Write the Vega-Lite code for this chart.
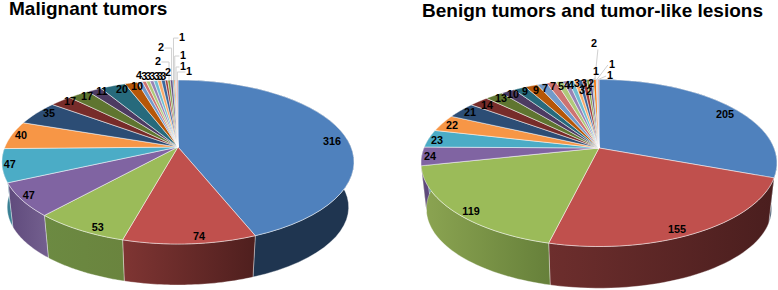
{"$schema":"https://vega.github.io/schema/vega-lite/v6.json","background":"white","padding":0,"autosize":{"type":"pad"},"spacing":0,"config":{"view":{"stroke":null},"title":{"font":"Liberation Sans","fontWeight":"bold","fontSize":19,"color":"#000","anchor":"start","frame":"group"},"text":{"font":"Liberation Sans"}},
"datasets":{"slices":[
{"chart":"malignant","i":1,"value":316},{"chart":"malignant","i":2,"value":74},{"chart":"malignant","i":3,"value":53},{"chart":"malignant","i":4,"value":47},{"chart":"malignant","i":5,"value":47},{"chart":"malignant","i":6,"value":40},{"chart":"malignant","i":7,"value":35},{"chart":"malignant","i":8,"value":17},{"chart":"malignant","i":9,"value":17},{"chart":"malignant","i":10,"value":11},{"chart":"malignant","i":11,"value":20},{"chart":"malignant","i":12,"value":10},{"chart":"malignant","i":13,"value":4},{"chart":"malignant","i":14,"value":3},{"chart":"malignant","i":15,"value":3},{"chart":"malignant","i":16,"value":3},{"chart":"malignant","i":17,"value":3},{"chart":"malignant","i":18,"value":3},{"chart":"malignant","i":19,"value":3},{"chart":"malignant","i":20,"value":2},{"chart":"malignant","i":21,"value":2},{"chart":"malignant","i":22,"value":2},{"chart":"malignant","i":23,"value":1},{"chart":"malignant","i":24,"value":1},{"chart":"malignant","i":25,"value":1},{"chart":"malignant","i":26,"value":1},
{"chart":"benign","i":1,"value":205},{"chart":"benign","i":2,"value":155},{"chart":"benign","i":3,"value":119},{"chart":"benign","i":4,"value":24},{"chart":"benign","i":5,"value":23},{"chart":"benign","i":6,"value":22},{"chart":"benign","i":7,"value":21},{"chart":"benign","i":8,"value":14},{"chart":"benign","i":9,"value":13},{"chart":"benign","i":10,"value":10},{"chart":"benign","i":11,"value":9},{"chart":"benign","i":12,"value":9},{"chart":"benign","i":13,"value":7},{"chart":"benign","i":14,"value":7},{"chart":"benign","i":15,"value":5},{"chart":"benign","i":16,"value":4},{"chart":"benign","i":17,"value":4},{"chart":"benign","i":18,"value":3},{"chart":"benign","i":19,"value":3},{"chart":"benign","i":20,"value":3},{"chart":"benign","i":21,"value":2},{"chart":"benign","i":22,"value":2},{"chart":"benign","i":23,"value":1},{"chart":"benign","i":24,"value":2},{"chart":"benign","i":25,"value":1},{"chart":"benign","i":26,"value":1}
]},
"data":{"name":"slices"},
"hconcat":[
{"width":389,"height":269,"title":{"text":"Malignant tumors","dx":9,"dy":1,"offset":3},
"transform":[{"filter":"datum.chart=='malignant'"},{"joinaggregate":[{"op":"sum","field":"value","as":"total"}]},{"window":[{"op":"sum","field":"value","as":"cum"}],"sort":[{"field":"i"}]},{"calculate":"(datum.cum-datum.value)/datum.total*2*PI","as":"a1"},{"calculate":"datum.cum/datum.total*2*PI","as":"a2"},{"calculate":"0.183","as":"e"}],
"encoding":{"x":{"field":"px","type":"quantitative","axis":null,"scale":{"domain":[-1.011,1.199],"nice":false,"zero":false}},"y":{"field":"py","type":"quantitative","axis":null,"scale":{"domain":[-1.561,1.72],"nice":false,"zero":false}}},
"layer":[
{"transform":[{"filter":"datum.i<=5"},{"calculate":"sequence(0,81)","as":"k"},{"flatten":["k"]},{"calculate":"datum.k<40?datum.k/39:(datum.k<80?(79-datum.k)/39:0)","as":"t"},{"calculate":"datum.a1+datum.t*(datum.a2-datum.a1)","as":"a"},{"calculate":"1+datum.e*cos(datum.a)","as":"den"},{"calculate":"sin(datum.a)*sqrt(1-datum.e*datum.e)/datum.den*((datum.k>=40&&datum.k<80)?0.97:1)","as":"px"},{"calculate":"(cos(datum.a)+datum.e)/datum.den*((datum.k>=40&&datum.k<80)?0.95:1)-((datum.k>=40&&datum.k<80)?0.55:0)","as":"py"}],
"encoding":{"order":{"field":"k","type":"quantitative"}},
"layer":[
{"transform":[{"filter":"datum.i==1"}],"mark":{"type":"line","stroke":"#ffffff","strokeWidth":0.6,"strokeOpacity":0.6,"fill":"#1f3550"}},
{"transform":[{"filter":"datum.i==2"}],"mark":{"type":"line","stroke":"#ffffff","strokeWidth":0.6,"strokeOpacity":0.6,"fill":{"gradient":"linear","x1":0,"x2":1,"y1":0,"y2":0,"stops":[{"offset":0,"color":"#7f3533"},{"offset":1,"color":"#4f1f1e"}]}}},
{"transform":[{"filter":"datum.i==3"}],"mark":{"type":"line","stroke":"#ffffff","strokeWidth":0.6,"strokeOpacity":0.6,"fill":{"gradient":"linear","x1":0,"x2":1,"y1":0,"y2":0,"stops":[{"offset":0,"color":"#6c8a42"},{"offset":1,"color":"#6a843e"}]}}},
{"transform":[{"filter":"datum.i==4"}],"mark":{"type":"line","stroke":"#ffffff","strokeWidth":0.6,"strokeOpacity":0.6,"fill":{"gradient":"linear","x1":0,"x2":1,"y1":0,"y2":0,"stops":[{"offset":0,"color":"#5f4a7c"},{"offset":1,"color":"#74608f"}]}}},
{"transform":[{"filter":"datum.i==5"}],"mark":{"type":"line","stroke":"#ffffff","strokeWidth":0.6,"strokeOpacity":0.6,"fill":"#3a8094"}}
]},
{"transform":[{"calculate":"sequence(0,42)","as":"k"},{"flatten":["k"]},{"calculate":"(datum.k-1)/39","as":"t"},{"calculate":"datum.a1+datum.t*(datum.a2-datum.a1)","as":"a"},{"calculate":"1+datum.e*cos(datum.a)","as":"den"},{"calculate":"(datum.k==0||datum.k>=41)?0:sin(datum.a)*sqrt(1-datum.e*datum.e)/datum.den","as":"px"},{"calculate":"(datum.k==0||datum.k>=41)?datum.e:(cos(datum.a)+datum.e)/datum.den","as":"py"}],
"mark":{"type":"line","stroke":"#ffffff","strokeWidth":0.7,"strokeOpacity":0.7,"strokeJoin":"round"},
"encoding":{"order":{"field":"k","type":"quantitative"},"fill":{"field":"i","type":"ordinal","legend":null,"scale":{"domain":[1,2,3,4,5,6,7,8,9,10,11,12,13,14,15,16,17,18,19,20,21,22,23,24,25,26],"range":["#4F81BD","#C0504D","#9BBB59","#8064A2","#4BACC6","#F79646","#2C4D75","#772C2A","#5F7530","#4D3B62","#276A7C","#B65708","#729ACA","#CD7371","#AFC97A","#9983B5","#6FBDD1","#F9AB6B","#3A679C","#9F3B38","#7E9D40","#664F83","#358EA6","#F3740B","#95B3D7","#D99694"]}}}},
{"transform":[{"filter":"datum.i>=21"},{"calculate":"(datum.a1+datum.a2)/2","as":"a"},{"calculate":"1+datum.e*cos(datum.a)","as":"den"},{"calculate":"sin(datum.a)*sqrt(1-datum.e*datum.e)/datum.den","as":"px"},{"calculate":"(cos(datum.a)+datum.e)/datum.den","as":"py"},{"calculate":"[1.22,1.39,1.512,1.293,1.159,1.098][datum.i-21]","as":"py2"}],
"mark":{"type":"rule","color":"#d0d0d0","strokeWidth":1},"encoding":{"x2":{"field":"px"},"y2":{"field":"py2"}}},
{"transform":[{"filter":"datum.i>=21"},{"calculate":"(datum.a1+datum.a2)/2","as":"a"},{"calculate":"1+datum.e*cos(datum.a)","as":"den"},{"calculate":"sin(datum.a)*sqrt(1-datum.e*datum.e)/datum.den","as":"px"},{"calculate":"[-0.114,-0.097,0.023,0.028,0.028,0.063][datum.i-21]","as":"lx"},{"calculate":"[1.22,1.39,1.512,1.293,1.159,1.098][datum.i-21]","as":"py"},{"calculate":"datum.lx+(datum.lx<datum.px?0.02:-0.02)","as":"px2"}],
"mark":{"type":"rule","color":"#d0d0d0","strokeWidth":1},"encoding":{"x2":{"field":"px2"}}},
{"transform":[{"calculate":"[0.875,0.119,-0.455,-0.847,-0.955,-0.892,-0.733,-0.614,-0.517,-0.432,-0.318,-0.233,-0.222,-0.191,-0.169,-0.146,-0.121,-0.102,-0.084,-0.057,-0.114,-0.097,0.023,0.028,0.028,0.063][datum.i-1]","as":"px"},{"calculate":"[0.244,-0.915,-0.805,-0.415,-0.037,0.317,0.585,0.732,0.793,0.854,0.878,0.915,1.049,1.037,1.037,1.037,1.037,1.037,1.037,1.085,1.22,1.39,1.512,1.293,1.159,1.098][datum.i-1]","as":"py"}],
"mark":{"type":"text","fontWeight":"bold","fontSize":10.8,"color":"#000"},"encoding":{"text":{"field":"value","type":"quantitative"}}}
]},
{"width":389,"height":269,"title":{"text":"Benign tumors and tumor-like lesions","dx":33,"dy":3,"offset":3},
"transform":[{"filter":"datum.chart=='benign'"},{"joinaggregate":[{"op":"sum","field":"value","as":"total"}]},{"window":[{"op":"sum","field":"value","as":"cum"}],"sort":[{"field":"i"}]},{"calculate":"(datum.cum-datum.value)/datum.total*2*PI","as":"a1"},{"calculate":"datum.cum/datum.total*2*PI","as":"a2"},{"calculate":"0.18","as":"e"}],
"encoding":{"x":{"field":"px","type":"quantitative","axis":null,"scale":{"domain":[-1.18,1.006],"nice":false,"zero":false}},"y":{"field":"py","type":"quantitative","axis":null,"scale":{"domain":[-1.521,1.701],"nice":false,"zero":false}}},
"layer":[
{"transform":[{"filter":"datum.i<=5"},{"calculate":"sequence(0,81)","as":"k"},{"flatten":["k"]},{"calculate":"datum.k<40?datum.k/39:(datum.k<80?(79-datum.k)/39:0)","as":"t"},{"calculate":"datum.a1+datum.t*(datum.a2-datum.a1)","as":"a"},{"calculate":"1+datum.e*cos(datum.a)","as":"den"},{"calculate":"sin(datum.a)*sqrt(1-datum.e*datum.e)/datum.den*((datum.k>=40&&datum.k<80)?0.97:1)","as":"px"},{"calculate":"(cos(datum.a)+datum.e)/datum.den*((datum.k>=40&&datum.k<80)?0.95:1)-((datum.k>=40&&datum.k<80)?0.55:0)","as":"py"}],
"encoding":{"order":{"field":"k","type":"quantitative"}},
"layer":[
{"transform":[{"filter":"datum.i==1"}],"mark":{"type":"line","stroke":"#ffffff","strokeWidth":0.6,"strokeOpacity":0.6,"fill":"#1f3550"}},
{"transform":[{"filter":"datum.i==2"}],"mark":{"type":"line","stroke":"#ffffff","strokeWidth":0.6,"strokeOpacity":0.6,"fill":{"gradient":"linear","x1":0,"x2":1,"y1":0,"y2":0,"stops":[{"offset":0,"color":"#6d2e2d"},{"offset":1,"color":"#4a1e1e"}]}}},
{"transform":[{"filter":"datum.i==3"}],"mark":{"type":"line","stroke":"#ffffff","strokeWidth":0.6,"strokeOpacity":0.6,"fill":{"gradient":"linear","x1":0,"x2":1,"y1":0,"y2":0,"stops":[{"offset":0,"color":"#8ca552"},{"offset":1,"color":"#66803a"}]}}},
{"transform":[{"filter":"datum.i==4"}],"mark":{"type":"line","stroke":"#ffffff","strokeWidth":0.6,"strokeOpacity":0.6,"fill":"#5f4a7c"}},
{"transform":[{"filter":"datum.i==5"}],"mark":{"type":"line","stroke":"#ffffff","strokeWidth":0.6,"strokeOpacity":0.6,"fill":"#3a8094"}}
]},
{"transform":[{"calculate":"sequence(0,42)","as":"k"},{"flatten":["k"]},{"calculate":"(datum.k-1)/39","as":"t"},{"calculate":"datum.a1+datum.t*(datum.a2-datum.a1)","as":"a"},{"calculate":"1+datum.e*cos(datum.a)","as":"den"},{"calculate":"(datum.k==0||datum.k>=41)?0:sin(datum.a)*sqrt(1-datum.e*datum.e)/datum.den","as":"px"},{"calculate":"(datum.k==0||datum.k>=41)?datum.e:(cos(datum.a)+datum.e)/datum.den","as":"py"}],
"mark":{"type":"line","stroke":"#ffffff","strokeWidth":0.7,"strokeOpacity":0.7,"strokeJoin":"round"},
"encoding":{"order":{"field":"k","type":"quantitative"},"fill":{"field":"i","type":"ordinal","legend":null,"scale":{"domain":[1,2,3,4,5,6,7,8,9,10,11,12,13,14,15,16,17,18,19,20,21,22,23,24,25,26],"range":["#4F81BD","#C0504D","#9BBB59","#8064A2","#4BACC6","#F79646","#2C4D75","#772C2A","#5F7530","#4D3B62","#276A7C","#B65708","#729ACA","#CD7371","#AFC97A","#9983B5","#6FBDD1","#F9AB6B","#3A679C","#9F3B38","#7E9D40","#664F83","#358EA6","#F3740B","#95B3D7","#D99694"]}}}},
{"transform":[{"filter":"datum.i>=23"},{"calculate":"(datum.a1+datum.a2)/2","as":"a"},{"calculate":"1+datum.e*cos(datum.a)","as":"den"},{"calculate":"sin(datum.a)*sqrt(1-datum.e*datum.e)/datum.den","as":"px"},{"calculate":"(cos(datum.a)+datum.e)/datum.den","as":"py"},{"calculate":"[1.02,1.36,1.174,1.042][datum.i-23]","as":"py2"},{"calculate":"[-0.017,-0.006,0.05,0.04][datum.i-23]","as":"px2"}],
"mark":{"type":"rule","color":"#d0d0d0","strokeWidth":1},"encoding":{"x2":{"field":"px2"},"y2":{"field":"py2"}}},
{"transform":[{"calculate":"[0.708,0.438,-0.719,-0.949,-0.91,-0.826,-0.725,-0.629,-0.551,-0.483,-0.416,-0.354,-0.303,-0.258,-0.213,-0.18,-0.157,-0.124,-0.096,-0.084,-0.056,-0.045,-0.017,-0.028,0.073,0.062][datum.i-1]","as":"px"},{"calculate":"[0.575,-0.802,-0.587,0.072,0.263,0.443,0.599,0.683,0.766,0.814,0.85,0.862,0.886,0.91,0.91,0.922,0.922,0.946,0.862,0.946,0.85,0.946,1.09,1.425,1.174,1.042][datum.i-1]","as":"py"}],
"mark":{"type":"text","fontWeight":"bold","fontSize":10.8,"color":"#000"},"encoding":{"text":{"field":"value","type":"quantitative"}}}
]}
]}
